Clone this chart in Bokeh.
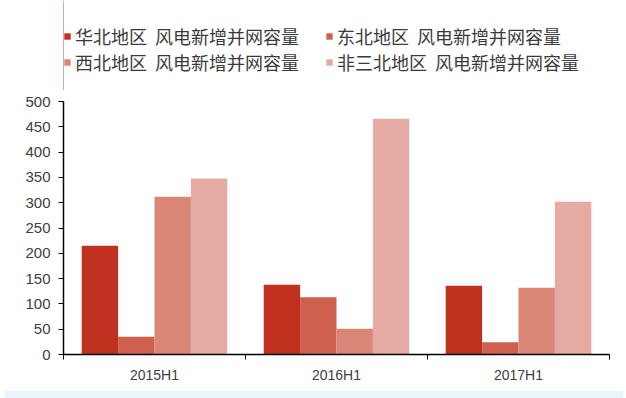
from bokeh.plotting import figure
from bokeh.models import Range1d, FixedTicker, Legend, LegendItem, ColumnDataSource, Div
from bokeh.layouts import column
from bokeh.transform import dodge
from bokeh.embed import file_html
from bokeh.resources import INLINE

categories = ["2015H1", "2016H1", "2017H1"]
series_names = [
    "华北地区  风电新增并网容量",
    "东北地区  风电新增并网容量",
    "西北地区  风电新增并网容量",
    "非三北地区  风电新增并网容量",
]
north = [215, 138, 136]
northeast = [35, 113, 24]
northwest = [312, 51, 132]
non_three_north = [348, 466, 302]
y_ticks = [0, 50, 100, 150, 200, 250, 300, 350, 400, 450, 500]

colors = ["#C0321F", "#CF5F4E", "#DA8677", "#E5AAA2"]

xc = [i + 0.5 for i in range(len(categories))]
src = ColumnDataSource(dict(x=xc, s0=north, s1=northeast, s2=northwest, s3=non_three_north))

# ---- legend strip (separate figure so the two-column legend sits above the plot)
lg = figure(width=618, height=90, output_backend="svg", toolbar_location=None,
            x_range=Range1d(0, 1), y_range=Range1d(0, 1),
            min_border_left=0, min_border_right=0, min_border_top=0, min_border_bottom=0)
lg.axis.visible = False
lg.grid.visible = False
lg.outline_line_color = None
dummy = ColumnDataSource(dict(x=[-10], top=[1]))  # lies outside the visible range
lg_renderers = [lg.vbar(x="x", top="top", width=0.1, source=dummy, fill_color=colors[k], line_color=None)
                for k in range(4)]
legend = Legend(items=[LegendItem(label=series_names[k], renderers=[lg_renderers[k]]) for k in range(4)],
                orientation="horizontal", ncols=2, location=(0, 15),
                label_text_font="Noto Sans CJK SC", label_text_font_size="18px",
                label_text_color="#3a3a3a", glyph_width=8, glyph_height=8,
                label_standoff=4, label_width=250, label_height=26, spacing=0,
                padding=0, margin=0, border_line_color=None, background_fill_alpha=0)
lg.add_layout(legend, "center")

# ---- main chart
p = figure(width=618, height=296, output_backend="svg", toolbar_location=None,
           x_range=Range1d(0, len(categories)), y_range=Range1d(0, 500),
           min_border_left=63, min_border_right=9, min_border_top=11, min_border_bottom=32)
p.outline_line_color = None
p.xgrid.grid_line_color = None
p.ygrid.grid_line_color = None

w = 0.2
offsets = [-0.3, -0.1, 0.1, 0.3]
for k, col in enumerate(["s0", "s1", "s2", "s3"]):
    p.vbar(x=dodge("x", offsets[k], range=p.x_range), top=col, width=w, source=src,
           fill_color=colors[k], line_color=None)

# x axis
p.xaxis.ticker = FixedTicker(ticks=xc, minor_ticks=list(range(len(categories) + 1)))
p.xaxis.major_label_overrides = {c: lab for c, lab in zip(xc, categories)}
p.xaxis.major_tick_line_color = None
p.xaxis.minor_tick_line_color = "#000000"
p.xaxis.minor_tick_out = 5
p.xaxis.minor_tick_in = 0
p.xaxis.axis_line_color = "#000000"
p.xaxis.axis_line_width = 1.5
p.xaxis.major_label_standoff = 6
p.xaxis.major_label_text_font = "Liberation Sans"
p.xaxis.major_label_text_font_size = "14px"
p.xaxis.major_label_text_color = "#404040"

# y axis
p.yaxis.ticker = FixedTicker(ticks=y_ticks)
p.yaxis.minor_tick_line_color = None
p.yaxis.major_tick_out = 5
p.yaxis.major_tick_in = 0
p.yaxis.major_tick_line_color = "#000000"
p.yaxis.axis_line_color = "#000000"
p.yaxis.axis_line_width = 1.5
p.yaxis.major_label_standoff = 8
p.yaxis.major_label_text_font = "Liberation Sans"
p.yaxis.major_label_text_font_size = "15px"
p.yaxis.major_label_text_color = "#404040"

strip = Div(width=618, height=12, styles={"background-color": "#EAF4FB"})
layout = column(lg, p, strip, spacing=0)

open("out.html", "w").write(file_html(layout, INLINE))
